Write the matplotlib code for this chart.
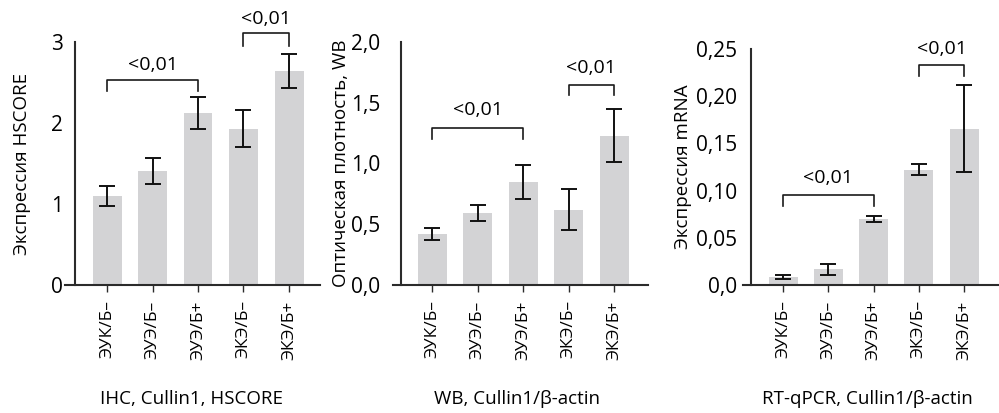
import numpy as np
import matplotlib.pyplot as plt

plt.rcParams['font.family'] = ['Open Sans', 'DejaVu Sans']

groups = ['ЭУК/Б–', 'ЭУЭ/Б–', 'ЭУЭ/Б+', 'ЭКЭ/Б–', 'ЭКЭ/Б+']

ihc_mean = [1.10, 1.41, 2.12, 1.93, 2.64]
ihc_err = [0.12, 0.16, 0.20, 0.23, 0.21]

wb_mean = [0.42, 0.59, 0.85, 0.62, 1.23]
wb_err = [0.05, 0.065, 0.14, 0.17, 0.22]

pcr_mean = [0.0085, 0.0165, 0.070, 0.122, 0.1655]
pcr_err = [0.0025, 0.0058, 0.003, 0.006, 0.046]

bar_color = '#d3d3d5'
axis_color = '#2b2b2b'

W, H = 999, 413
fig = plt.figure(figsize=(W / 100, H / 100), dpi=100)


def fx(px):
    return px / W


def fy(py):
    return 1 - py / H


def bracket(ax, x0, x1, top, drop, ytext, label='<0,01'):
    ax.plot([x0, x0, x1, x1], [drop, top, top, drop], color='#1a1a1a',
            lw=1.2, clip_on=False)
    ax.text((x0 + x1) / 2, ytext, label, ha='center', va='center',
            fontsize=14, clip_on=False)


def panel(left_px, right_px, top_px, spine_px, c0_px, step_px, ypad,
          means, errs, ymax, yticks, yticklabels, ylabel, ylabel_px, title):
    ax = fig.add_axes([fx(left_px), fy(285), fx(right_px - left_px),
                       (285 - top_px) / H])
    x = np.arange(len(means))
    ax.bar(x, means, width=29 / step_px, color=bar_color, zorder=1)
    ax.errorbar(x, means, yerr=errs, fmt='none', ecolor='#111111',
                elinewidth=1.4, capsize=5.5, capthick=1.4, zorder=2)
    ax.set_xlim((left_px - c0_px) / step_px, (right_px - c0_px) / step_px)
    ax.set_ylim(0, ymax)
    # y axis sits a little to the right of where the x axis line starts
    ax.spines['left'].set_position(('data', (spine_px - c0_px) / step_px))
    for s in ['top', 'right']:
        ax.spines[s].set_visible(False)
    for s in ['left', 'bottom']:
        ax.spines[s].set_color(axis_color)
        ax.spines[s].set_linewidth(1.5)
    ax.set_xticks(x)
    ax.set_xticklabels(groups, rotation=90, fontsize=12.5)
    ax.tick_params(axis='x', length=5, width=1, color=axis_color, pad=6)
    ax.set_yticks(yticks)
    ax.set_yticklabels(yticklabels, fontsize=15)
    ax.tick_params(axis='y', length=0, pad=ypad)
    ax.set_ylabel(ylabel, fontsize=13.5)
    ax.yaxis.set_label_coords((ylabel_px - left_px) / (right_px - left_px),
                              0.5)
    fig.text(fx(c0_px + 2 * step_px - 6), fy(399), title, ha='center',
             va='center', fontsize=13.5)
    return ax


ax1 = panel(65, 320, 42, 75, 107, 45.5, 8.5, ihc_mean, ihc_err, 3,
            [0, 1, 2, 3], ['0', '1', '2', '3'],
            'Экспрессия HSCORE', 31, 'IHC, Cullin1, HSCORE')
bracket(ax1, 0, 2, 2.53, 2.39, 2.72)
bracket(ax1, 3, 4, 3.11, 2.95, 3.28)

ax2 = panel(393, 648, 42, 401, 432, 45.5, 15, wb_mean, wb_err, 2.0,
            [0, 0.5, 1.0, 1.5, 2.0], ['0,0', '0,5', '1,0', '1,5', '2,0'],
            'Оптическая плотность, WB', 350, 'WB, Cullin1/β-actin')
bracket(ax2, 0, 2, 1.29, 1.20, 1.44)
bracket(ax2, 3, 4, 1.65, 1.56, 1.79)

ax3 = panel(743, 998, 49, 751, 783, 45.3, 10, pcr_mean, pcr_err, 0.25,
            [0, 0.05, 0.10, 0.15, 0.20, 0.25],
            ['0,0', '0,05', '0,10', '0,15', '0,20', '0,25'],
            'Экспрессия mRNA', 692, 'RT-qPCR, Cullin1/β-actin')
bracket(ax3, 0, 2, 0.0955, 0.084, 0.113)
bracket(ax3, 3, 4, 0.2334, 0.2217, 0.25)

fig.savefig('out.png', dpi=100)
